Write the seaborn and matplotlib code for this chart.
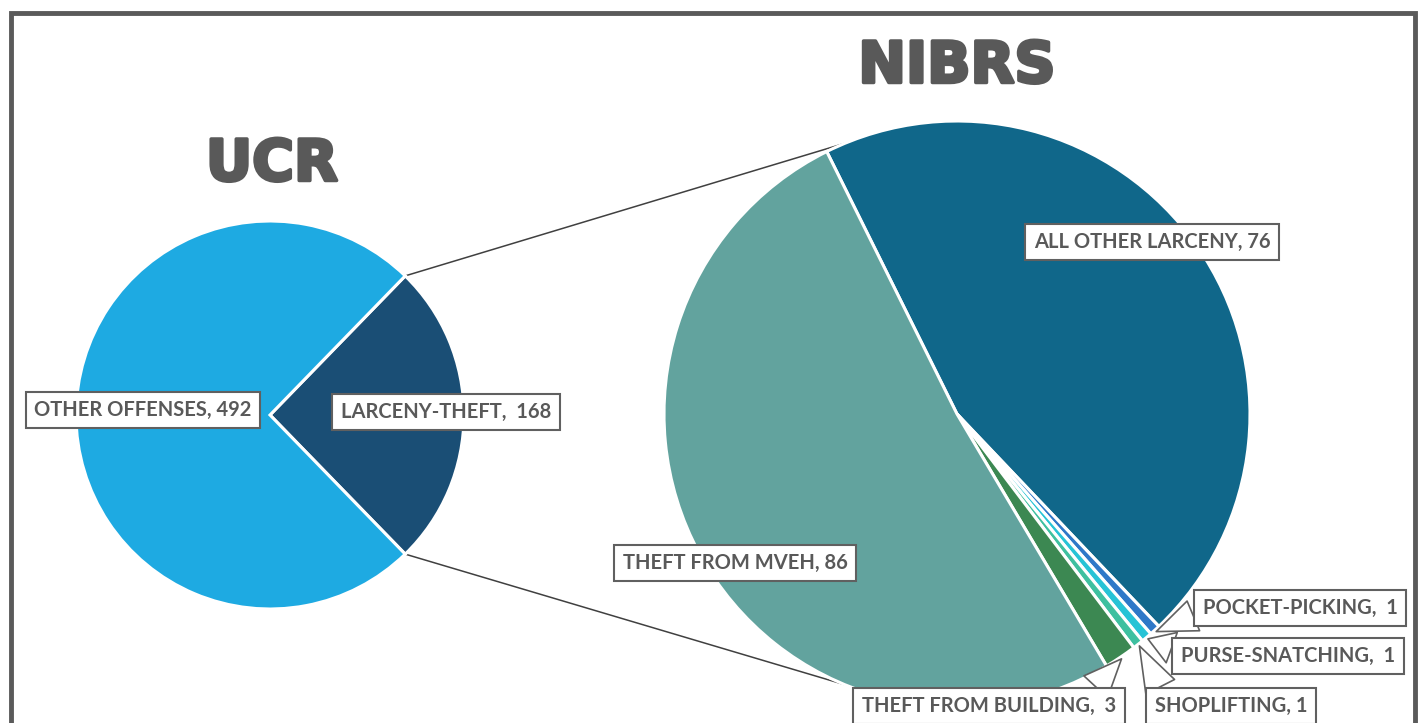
import numpy as np
import matplotlib
matplotlib.use("Agg")
import matplotlib.pyplot as plt
import matplotlib.patheffects as pe
import seaborn as sns
from matplotlib.patches import Rectangle

sns.set_theme(style="white")
plt.rcParams["font.family"] = ["Lato", "DejaVu Sans"]

# data
ucr_labels = ["LARCENY-THEFT", "OTHER OFFENSES"]
ucr_values = [168, 492]
ucr_colors = ["#1a4e75", "#1eaae2"]

nibrs_labels = ["ALL OTHER LARCENY", "POCKET-PICKING", "PURSE-SNATCHING",
                "SHOPLIFTING", "THEFT FROM BUILDING", "THEFT FROM MVEH"]
nibrs_values = [76, 1, 1, 1, 3, 86]
nibrs_colors = ["#10678a", "#2e78c8", "#27c3d6", "#3ec0a0", "#3c8852", "#62a39e"]

# layout (pixel space, y up)
W, H = 1422, 723
ucr_c, ucr_r = (270, 308), 194
nib_c, nib_r = (957, 309), 293
ucr_start = 360 * ucr_values[0] / sum(ucr_values) / 2
nib_start = 116.4
txt_col = "#595959"

fig = plt.figure(figsize=(W / 100, H / 100), dpi=100)
ax = fig.add_axes([0, 0, 1, 1])

wp = dict(edgecolor="white", linewidth=2.2)
w1, _ = ax.pie(ucr_values, colors=ucr_colors, startangle=ucr_start, counterclock=False,
               center=ucr_c, radius=ucr_r, wedgeprops=wp)
w2, _ = ax.pie(nibrs_values, colors=nibrs_colors, startangle=nib_start, counterclock=False,
               center=nib_c, radius=nib_r, wedgeprops=wp)

ax.set_xlim(0, W)
ax.set_ylim(0, H)
ax.set_aspect("equal")
ax.axis("off")

# connector lines between the pies
def on_circle(c, r, ang):
    a = np.deg2rad(ang)
    return c[0] + r * np.cos(a), c[1] + r * np.sin(a)

for sgn in (1, -1):
    p1 = on_circle(ucr_c, ucr_r, sgn * ucr_start)
    p2 = on_circle(nib_c, nib_r, sgn * 112.5)
    ax.plot([p1[0], p2[0]], [p1[1], p2[1]], color="#404040", lw=1.1, zorder=0.5)

# titles
heavy = [pe.withStroke(linewidth=2.5, foreground=txt_col)]
ax.text(272, 558, "UCR", ha="center", va="center", fontsize=41, fontweight="bold",
        color=txt_col, family="DejaVu Sans", path_effects=heavy)
ax.text(957, 656, "NIBRS", ha="center", va="center", fontsize=41, fontweight="bold",
        color=txt_col, family="DejaVu Sans", path_effects=heavy)

box = dict(boxstyle="square,pad=0.42", fc="white", ec="#606060", lw=1.5)
fs = 14.5
tkw = dict(ha="center", va="center", fontsize=fs, fontweight="bold", color=txt_col, bbox=box)

def mid_angle(w):
    return (w.theta1 + w.theta2) / 2

# plain labels
ax.text(143, 313, f"{ucr_labels[1]}, {ucr_values[1]}", **tkw)
ax.text(446, 311, f"{ucr_labels[0]},  {ucr_values[0]}", **tkw)
ax.text(1152, 481, f"{nibrs_labels[0]}, {nibrs_values[0]}", **tkw)
ax.text(735, 160, f"{nibrs_labels[5]}, {nibrs_values[5]}", **tkw)

# callout labels for the small slices
callouts = [
    (1, (1300, 115), (0.0, 0.3)),
    (2, (1288, 67), (0.0, 0.75)),
    (3, (1231, 17), (0.1, 0.5)),
    (4, (989, 17), (0.85, 0.5)),
]
for i, pos, rel in callouts:
    tip = on_circle(nib_c, nib_r + 2, mid_angle(w2[i]))
    sep = ",  " if i != 3 else ", "
    ax.annotate(f"{nibrs_labels[i]}{sep}{nibrs_values[i]}", xy=tip, xytext=pos, **tkw,
                arrowprops=dict(arrowstyle="wedge,tail_width=1.6,shrink_factor=0.5",
                                fc="white", ec="#606060", lw=1.2, relpos=rel,
                                shrinkA=0, shrinkB=0))

# outer frame
ax.add_patch(Rectangle((11, -30), 1404, 740, fill=False, ec="#5a5a5a", lw=3.5,
                       clip_on=False, zorder=5))

fig.savefig("out.png", dpi=100)
